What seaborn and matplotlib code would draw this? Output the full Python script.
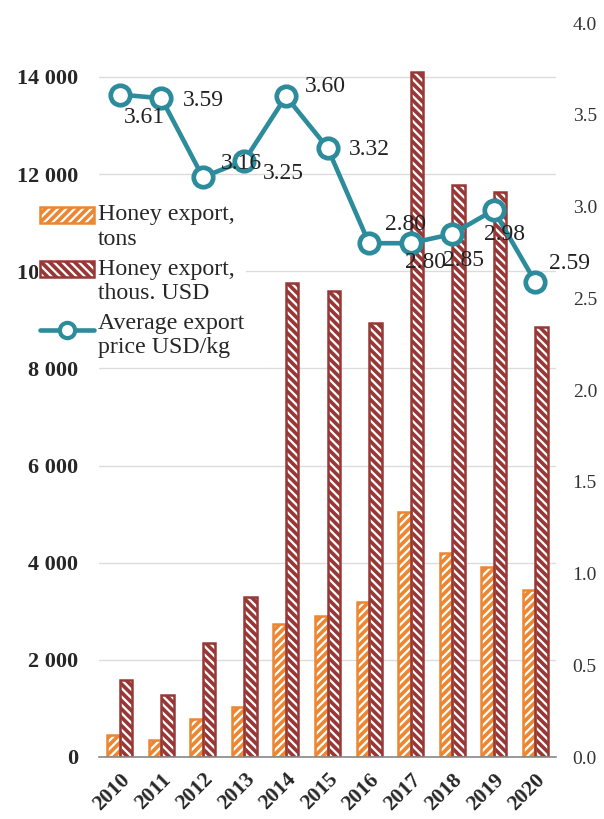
import numpy as np
import pandas as pd
import matplotlib
matplotlib.use("Agg")
import matplotlib.pyplot as plt
from matplotlib.patches import Patch, Rectangle
from matplotlib.lines import Line2D
from matplotlib.legend_handler import HandlerTuple, HandlerPatch, HandlerLine2D
import seaborn as sns

years = ['2010', '2011', '2012', '2013', '2014', '2015', '2016', '2017', '2018', '2019', '2020']
tons = [460, 340, 780, 1030, 2740, 2900, 3190, 5040, 4200, 3910, 3440]
usd = [1590, 1280, 2350, 3300, 9760, 9600, 8930, 14100, 11780, 11640, 8850]
price = [3.61, 3.59, 3.16, 3.25, 3.60, 3.32, 2.80, 2.80, 2.85, 2.98, 2.59]
series_names = ['Honey export,\ntons', 'Honey export,\nthous. USD']
price_name = 'Average export\nprice USD/kg'
left_ticks = [0, 2000, 4000, 6000, 8000, 10000, 12000, 14000]
right_ticks = [0.0, 0.5, 1.0, 1.5, 2.0, 2.5, 3.0, 3.5, 4.0]

# label offsets in pixels (dx, dy) relative to each point
label_offsets = [(25, -23), (42, -2), (39, 14), (39, -13), (39, 10), (42, -2),
                 (36, 19), (15, -19), (11, -26), (11, -24), (34, 18)]

ORANGE = '#EC8630'
RED = '#983836'
TEAL = '#2C8C9B'

sns.set_style('white')
plt.rcParams['font.family'] = ['Liberation Serif', 'DejaVu Serif']
plt.rcParams['hatch.linewidth'] = 1.6

df = pd.DataFrame({
    'year': years * 2,
    'series': [series_names[0]] * len(years) + [series_names[1]] * len(years),
    'value': tons + usd,
})

fig = plt.figure(figsize=(6.04, 8.19), dpi=100)
W, H = 604, 819
ax = fig.add_axes([99 / W, 1 - 757 / H, (556 - 99) / W, (757 - 23) / H])

sns.barplot(data=df, x='year', y='value', hue='series', hue_order=series_names,
            palette=[ORANGE, RED], width=0.6, ax=ax, legend=False, saturation=1)

for i, p in enumerate(list(ax.patches)):
    col = ORANGE if i < len(years) else RED
    p.set_facecolor(col)
    p.set_edgecolor('white')
    p.set_linewidth(0)
    p.set_hatch('////' if col == ORANGE else '\\\\\\\\')
    ax.add_patch(Rectangle(p.get_xy(), p.get_width(), p.get_height(), fill=False,
                           edgecolor=col, linewidth=1.8, zorder=p.get_zorder() + 0.1))

ax.set_ylim(0, 15110)
ax.set_xlim(-0.5, len(years) - 0.5)
ax.set_yticks(left_ticks)
ax.set_yticklabels([f'{v:,}'.replace(',', ' ') for v in left_ticks], fontsize=16, fontweight='bold')
ax.tick_params(axis='y', length=0, pad=15)
ax.grid(axis='y', color='#dcdcdc', linewidth=1)
ax.set_axisbelow(True)
for s in ['left', 'right', 'top']:
    ax.spines[s].set_visible(False)
ax.spines['bottom'].set_color('#888888')
ax.spines['bottom'].set_linewidth(1.2)
ax.set_xlabel('')
ax.set_ylabel('')
ax.set_xticks(np.arange(len(years)))
ax.set_xticklabels(years, rotation=45, ha='right', rotation_mode='anchor',
                   fontsize=15.5, fontweight='bold')
ax.tick_params(axis='x', which='major', length=0, pad=9)
ax.set_xticks(np.arange(len(years) + 1) - 0.5, minor=True)
ax.tick_params(axis='x', which='minor', length=5, width=1.2, color='#888888', direction='out')

ax2 = ax.twinx()
sns.lineplot(x=np.arange(len(years)), y=price, ax=ax2, color=TEAL, linewidth=3.3,
             marker='o', markersize=14, markerfacecolor='white', markeredgecolor=TEAL,
             markeredgewidth=3.4)
ax2.set_ylim(0, 4.0)
ax2.set_yticks(right_ticks)
ax2.set_yticklabels([f'{v:.1f}' for v in right_ticks], fontsize=14, color='#333333')
ax2.tick_params(axis='y', length=0, pad=12)
for s in ax2.spines.values():
    s.set_visible(False)
ax2.set_xlim(-0.5, len(years) - 0.5)

for i, (v, off) in enumerate(zip(price, label_offsets)):
    ax2.annotate(f'{v:.2f}', xy=(i, v), xytext=off, textcoords='offset pixels',
                 ha='center', va='center', fontsize=17, color='#222222')


SHIFT = 8.3  # points: align legend handles with first text line


class ShiftPatch(HandlerPatch):
    def create_artists(self, legend, orig_handle, xdescent, ydescent, width, height, fontsize, trans):
        return super().create_artists(legend, orig_handle, xdescent, ydescent - SHIFT,
                                      width, height, fontsize, trans)


class ShiftLine(HandlerLine2D):
    def create_artists(self, legend, orig_handle, xdescent, ydescent, width, height, fontsize, trans):
        return super().create_artists(legend, orig_handle, xdescent, ydescent - SHIFT,
                                      width, height, fontsize, trans)


h1 = (Patch(facecolor=ORANGE, edgecolor='white', hatch='////', linewidth=0),
      Patch(facecolor='none', edgecolor=ORANGE, linewidth=1.8))
h2 = (Patch(facecolor=RED, edgecolor='white', hatch='\\\\\\\\', linewidth=0),
      Patch(facecolor='none', edgecolor=RED, linewidth=1.8))
h3 = Line2D([], [], color=TEAL, linewidth=3.3, marker='o', markersize=11,
            markerfacecolor='white', markeredgecolor=TEAL, markeredgewidth=3)
leg = ax2.legend([h1, h2, h3], series_names + [price_name],
                 handler_map={tuple: HandlerTuple(ndivide=1), Patch: ShiftPatch(),
                              Line2D: ShiftLine()},
                 loc='upper left', bbox_to_anchor=(38 / W, 1 - 202 / H),
                 bbox_transform=fig.transFigure, fontsize=17.2, frameon=True,
                 facecolor='white', edgecolor='white', framealpha=1,
                 borderpad=0.1, borderaxespad=0, handlelength=2.25, handleheight=0.65,
                 handletextpad=0.15, labelspacing=0.38, fancybox=False)
leg.get_frame().set_linewidth(0)

fig.savefig('out.png', dpi=100)
